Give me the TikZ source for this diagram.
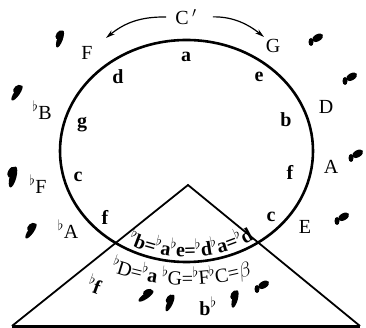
\documentclass[tikz,border=0pt]{standalone}
\usepackage{fontspec}
\setmainfont{Liberation Serif}
\usetikzlibrary{arrows.meta, decorations.text}
\newcommand{\fl}{$^\flat$}
\tikzset{
	note/.style     ={font=\fontsize{20}{22}\selectfont, inner sep=0pt},
	keyn/.style     ={note, font=\fontsize{20}{22}\selectfont\bfseries},
	outline/.style  ={line width=2.6pt},
	side/.style     ={line width=1.8pt},
	floor/.style    ={line width=3pt},
	sweep/.style    ={-{Stealth[length=9pt, width=5pt]}, line width=1.2pt},
	% smudged key marks
	smudgeL/.pic    ={\fill[rotate=55] (0,0) ellipse [x radius=9, y radius=2.8];
	                  \fill[rotate=40] (3,3) ellipse [x radius=5, y radius=3];},
	smudgeR/.pic    ={\fill (-5,-1) ellipse [x radius=2.5, y radius=4];
	                  \fill[rotate=30] (3,2) ellipse [x radius=6, y radius=3.5];},
}
\begin{document}
\begin{tikzpicture}[x=1pt, y=1pt]
	\useasboundingbox (0,0) rectangle (366,-328);
	% circle of keys
	\draw[outline] (186.5,-151) ellipse [x radius=126.5, y radius=111];
	% triangle
	\coordinate (apex)  at (188,-185);
	\coordinate (baseL) at (12,-326);
	\coordinate (baseR) at (360,-326);
	\draw[side] (baseL) -- (apex) -- (baseR);
	\draw[floor] (baseL) -- (baseR);
	% C' with its two arrows
	\node[note, inner xsep=9pt] (cprime) at (186,-17) {C$\,'$};
	\coordinate (tipL) at (106,-38);
	\coordinate (tipR) at (264,-37);
	\draw[sweep] (cprime.west) to[bend right=20] (tipL);
	\draw[sweep, shorten <=7pt] (cprime.east) to[bend left=20] (tipR);
	% outer labels
	\node[note] (nF)  at (87,-53)   {F};
	\node[note] (nG)  at (273,-46)  {G};
	\node[note] (nBb) at (42,-110)  {\fl B};
	\node[note] (nD)  at (326,-107) {D};
	\node[note] (nFb) at (38,-184)  {\fl F};
	\node[note] (nA)  at (331,-167) {A};
	\node[note] (nAb) at (68,-229)  {\fl A};
	\node[note] (nE)  at (305,-227) {E};
	% inner labels
	\node[keyn] (na)  at (186,-57)  {a};
	\node[keyn] (nd)  at (118,-77)  {d};
	\node[keyn] (ne)  at (259,-77)  {e};
	\node[keyn] (ng)  at (82,-125)  {g};
	\node[keyn] (nb)  at (286,-120) {b};
	\node[keyn] (nc)  at (78,-177)  {c};
	\node[keyn] (nf)  at (290,-172) {f};
	\node[keyn] (nf2) at (105,-217) {f};
	\node[keyn] (nc2) at (271,-217) {c};
	% labels inside triangle
	\node[keyn, rotate=-20] (nfb) at (95,-284) {\fl f};
	\node[keyn] (nbb) at (208,-306) {b\fl};
	% curved equations
	\path[decorate, decoration={text along path, text align=center,
		text={|\fontsize{20}{22}\selectfont\bfseries|{\fl}b={\fl}a{\fl}e={\fl}d{\fl}a={\fl}d}}]
		(186.5,-151) ++(225:121 and 106) arc [start angle=225, end angle=320, x radius=121, y radius=106];
	\path[decorate, decoration={text along path, text align=center,
		text={|\fontsize{20}{22}\selectfont|{\fl}D={\fl}{\bfseries a} {\fl}G={\fl}F{\fl}C={$\beta$}}}]
		(186.5,-151) ++(228:172 and 134) arc [start angle=228, end angle=308, x radius=172, y radius=134];
	% key marks
	\pic[rotate=15]  at (60,-39)   {smudgeL};
	\pic             at (17,-93)   {smudgeL};
	\pic[rotate=20, scale=1.2] at (13,-177) {smudgeL};
	\pic             at (31,-231)  {smudgeL};
	\pic[rotate=-20] at (146,-296) {smudgeL};
	\pic[rotate=10]  at (170,-303) {smudgeL};
	\pic[rotate=20]  at (235,-299) {smudgeL};
	\pic             at (316,-41)  {smudgeR};
	\pic             at (350,-80)  {smudgeR};
	\pic             at (356,-157) {smudgeR};
	\pic             at (342,-220) {smudgeR};
	\pic             at (262,-288) {smudgeR};
\end{tikzpicture}
\end{document}
